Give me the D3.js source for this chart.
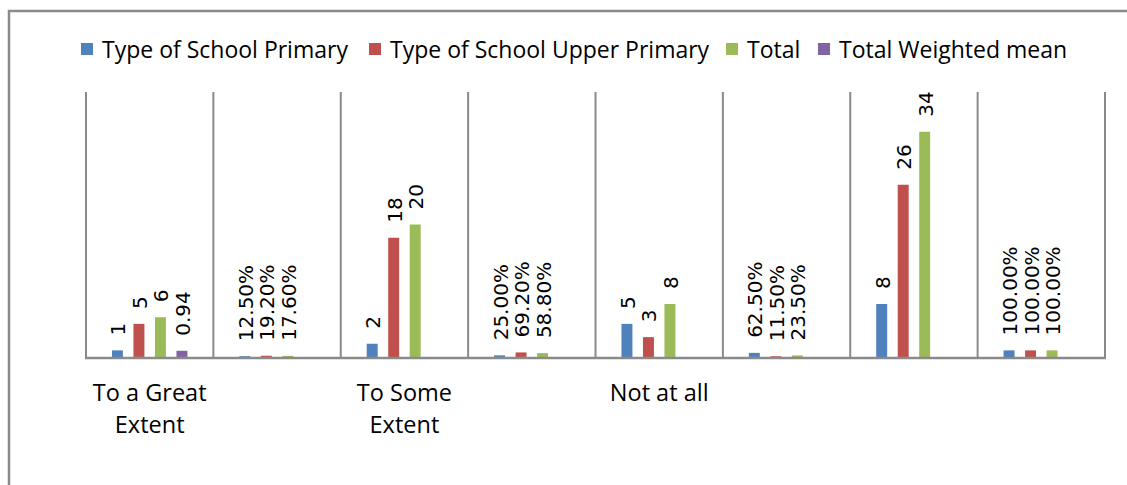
<!DOCTYPE html>
<html>
<head>
<meta charset="utf-8">
<script src="https://cdn.jsdelivr.net/npm/d3@7"></script>
<style>
  html, body { margin: 0; padding: 0; background: #fff; }
  svg { display: block; }
</style>
</head>
<body>
<svg id="chart" width="1127" height="485"></svg>
<script>
// ---- data ----
const categories = ["To a Great Extent", "", "To Some Extent", "", "Not at all", "", "", ""];
const seriesNames = ["Type of School Primary", "Type of School Upper Primary", "Total", "Total Weighted mean"];
const primary  = [1, 0.125, 2, 0.25, 5, 0.625, 8, 1];
const upper    = [5, 0.192, 18, 0.692, 3, 0.115, 26, 1];
const total    = [6, 0.176, 20, 0.588, 8, 0.235, 34, 1];
const weighted = [0.94, null, null, null, null, null, null, null];
const labelKinds = ["num", "pct", "num", "pct", "num", "pct", "num", "pct"];
const yTicks = [0, 10, 20, 30, 40];

const seriesValues = [primary, upper, total, weighted];
const colors = ["#4F81BD", "#C0504D", "#9BBB59", "#8064A2"];

const svg = d3.select("#chart");
const W = 1127, H = 485;
const plot = { left: 86, right: 1105, top: 92, bottom: 357 };

// outer frame
svg.append("rect")
  .attr("x", 9).attr("y", 11).attr("width", W + 20).attr("height", H + 20)
  .attr("fill", "none").attr("stroke", "#8a8a8a").attr("stroke-width", 2.5);

const x0 = d3.scaleBand().domain(d3.range(categories.length)).range([plot.left, plot.right]).padding(0);
const groupW = x0.bandwidth() * 0.675;
const x1 = d3.scaleBand().domain(d3.range(seriesValues.length)).range([0, groupW])
  .paddingInner(0.49).paddingOuter(0.245);
const y = d3.scaleLinear().domain([0, d3.max(yTicks)]).range([plot.bottom, plot.top]);

// vertical gridlines (category separators)
const sepIdx = d3.range(categories.length + 1);
svg.append("g").selectAll("line").data(sepIdx).join("line")
  .attr("x1", i => i < categories.length ? x0(i) : x0(categories.length - 1) + x0.bandwidth())
  .attr("x2", i => i < categories.length ? x0(i) : x0(categories.length - 1) + x0.bandwidth())
  .attr("y1", y(d3.max(yTicks))).attr("y2", y(0))
  .attr("stroke", "#8a8a8a").attr("stroke-width", 2);

// bars
const flat = [];
seriesValues.forEach((arr, s) => arr.forEach((v, c) => { if (v != null) flat.push({ s, c, v }); }));
const groupOffset = (x0.bandwidth() - groupW) / 2;
const barX = d => x0(d.c) + groupOffset + x1(d.s);

svg.append("g").selectAll("rect").data(flat).join("rect")
  .attr("x", barX)
  .attr("y", d => y(d.v))
  .attr("width", x1.bandwidth())
  .attr("height", d => y(0) - y(d.v))
  .attr("fill", d => colors[d.s]);

// baseline
svg.append("line")
  .attr("x1", plot.left - 1).attr("x2", plot.right + 1)
  .attr("y1", y(0) + 1).attr("y2", y(0) + 1)
  .attr("stroke", "#8a8a8a").attr("stroke-width", 2.5);

// data labels
const fmtPct = d3.format(".2%");
const fmtNum = v => String(v);
svg.append("g").selectAll("text").data(flat).join("text")
  .attr("transform", d => `translate(${barX(d) + x1.bandwidth() / 2 + 1},${y(d.v) - 15}) rotate(-90)`)
  .attr("text-anchor", "start")
  .attr("dominant-baseline", "central")
  .attr("font-family", "DejaVu Sans, Verdana, sans-serif")
  .attr("font-size", 20)
  .attr("fill", "#000")
  .text(d => labelKinds[d.c] === "pct" ? fmtPct(d.v) : fmtNum(d.v));

// category labels (wrapped)
const catFont = "Open Sans";
const catSize = 23.5;
const g = svg.append("g");
categories.forEach((name, i) => {
  if (!name) return;
  const words = name.split(" ");
  const lines = [];
  let line = [];
  const tmp = g.append("text").attr("font-family", catFont).attr("font-size", catSize);
  words.forEach(w => {
    const test = line.concat(w).join(" ");
    tmp.text(test);
    if (tmp.node().getComputedTextLength() > x0.bandwidth() - 6 && line.length) {
      lines.push(line.join(" "));
      line = [w];
    } else line.push(w);
  });
  lines.push(line.join(" "));
  tmp.remove();
  const t = g.append("text")
    .attr("font-family", catFont).attr("font-size", catSize).attr("fill", "#000")
    .attr("text-anchor", "middle");
  lines.forEach((l, k) => {
    t.append("tspan").attr("x", x0(i) + x0.bandwidth() / 2).attr("y", 401 + k * 32).text(l);
  });
});

// legend
const legendItems = [
  { name: seriesNames[0], x: 81 },
  { name: seriesNames[1], x: 369 },
  { name: seriesNames[2], x: 726 },
  { name: seriesNames[3], x: 818 }
];
const lg = svg.append("g");
legendItems.forEach((it, i) => {
  lg.append("rect").attr("x", it.x).attr("y", 43).attr("width", 12).attr("height", 12).attr("fill", colors[i]);
  lg.append("text").attr("x", it.x + 21).attr("y", 58)
    .attr("font-family", catFont).attr("font-size", 23).attr("fill", "#000")
    .text(it.name);
});
</script>
</body>
</html>
